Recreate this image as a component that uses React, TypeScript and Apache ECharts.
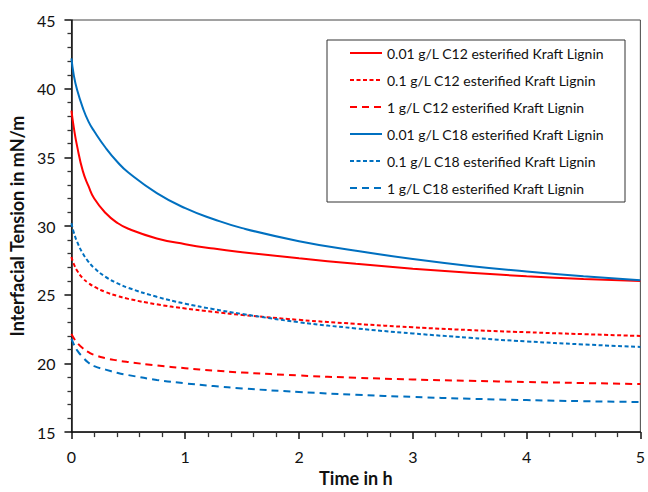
import React, { useEffect, useRef } from "react";
import * as echarts from "echarts";

const times = [0, 0.02, 0.05, 0.1, 0.15, 0.2, 0.3, 0.4, 0.5, 0.75, 1, 1.25, 1.5, 2, 2.5, 3, 3.5, 4, 4.5, 5];

const c12_001 = [38.4, 37.2, 35.8, 34.0, 32.9, 32.0, 30.95, 30.25, 29.8, 29.1, 28.68, 28.36, 28.1, 27.65, 27.25, 26.9, 26.6, 26.35, 26.15, 26.0];
const c12_01 = [27.75, 27.25, 26.75, 26.2, 25.85, 25.58, 25.2, 24.92, 24.7, 24.3, 24.0, 23.75, 23.53, 23.17, 22.88, 22.63, 22.43, 22.27, 22.13, 22.0];
const c12_1 = [22.15, 21.85, 21.5, 21.1, 20.82, 20.62, 20.38, 20.22, 20.1, 19.85, 19.65, 19.48, 19.34, 19.12, 18.96, 18.83, 18.73, 18.65, 18.57, 18.5];
const c18_001 = [42.2, 41.0, 39.9, 38.6, 37.6, 36.9, 35.7, 34.7, 33.9, 32.4, 31.3, 30.5, 29.85, 28.9, 28.2, 27.6, 27.1, 26.7, 26.35, 26.05];
const c18_01 = [30.2, 29.55, 28.85, 28.0, 27.4, 26.95, 26.3, 25.85, 25.5, 24.85, 24.35, 23.95, 23.6, 23.0, 22.55, 22.18, 21.87, 21.6, 21.38, 21.2];
const c18_1 = [21.8, 21.4, 20.95, 20.45, 20.05, 19.8, 19.55, 19.32, 19.15, 18.8, 18.55, 18.35, 18.18, 17.92, 17.72, 17.56, 17.43, 17.33, 17.25, 17.19];

const seriesNames = [
  "0.01 g/L C12 esterified Kraft Lignin",
  "0.1 g/L C12 esterified Kraft Lignin",
  "1 g/L C12 esterified Kraft Lignin",
  "0.01 g/L C18 esterified Kraft Lignin",
  "0.1 g/L C18 esterified Kraft Lignin",
  "1 g/L C18 esterified Kraft Lignin",
];
const seriesValues = [c12_001, c12_01, c12_1, c18_001, c18_01, c18_1];

const RED = "#FF0000";
const BLUE = "#0070C0";
const FONT = "Lato";

export default function App() {
  const ref = useRef<HTMLDivElement>(null);
  useEffect(() => {
    if (!ref.current) return;
    const chart = echarts.init(ref.current, undefined, { renderer: "svg" });
    const styles = [
      { color: RED, type: "solid" as any },
      { color: RED, type: [4, 2.5] as any },
      { color: RED, type: [7, 5] as any },
      { color: BLUE, type: "solid" as any },
      { color: BLUE, type: [4, 2.5] as any },
      { color: BLUE, type: [7, 5] as any },
    ];
    chart.setOption({
      animation: false,
      backgroundColor: "#fff",
      textStyle: { fontFamily: FONT },
      grid: {
        left: 70,
        right: 5,
        top: 20,
        bottom: 50,
        show: true,
        borderColor: "#444",
        borderWidth: 1,
      },
      legend: {
        orient: "vertical",
        left: 327,
        top: 40,
        padding: [6, 21, 7, 22],
        itemWidth: 32,
        itemHeight: 14,
        itemGap: 13,
        backgroundColor: "#fff",
        borderColor: "#333",
        borderWidth: 1,
        borderRadius: 0,
        itemStyle: { opacity: 0 },
        textStyle: { fontFamily: FONT, fontSize: 14, color: "#111" },
        data: seriesNames,
      },
      xAxis: {
        type: "value",
        min: 0,
        max: 5,
        interval: 1,
        name: "Time in h",
        nameLocation: "middle",
        nameGap: 33,
        nameTextStyle: { fontFamily: FONT, fontSize: 18, fontWeight: "bold", color: "#111" },
        axisLine: { show: true, onZero: false, lineStyle: { color: "#111", width: 1.5 } },
        axisTick: { show: true, inside: false, length: 7, lineStyle: { color: "#111", width: 1.5 } },
        minorTick: { show: true, splitNumber: 5, length: 5, lineStyle: { color: "#333", width: 1.3 } },
        axisLabel: { fontFamily: FONT, fontSize: 16, color: "#111", margin: 16 },
        splitLine: { show: false },
      },
      yAxis: {
        type: "value",
        min: 15,
        max: 45,
        interval: 5,
        name: "Interfacial Tension in mN/m",
        nameLocation: "middle",
        nameGap: 40,
        nameRotate: 90,
        nameTextStyle: { fontFamily: FONT, fontSize: 18, fontWeight: "bold", color: "#111" },
        axisLine: { show: true, onZero: false, lineStyle: { color: "#111", width: 1.5 } },
        axisTick: { show: true, inside: false, length: 7, lineStyle: { color: "#111", width: 1.5 } },
        minorTick: { show: true, splitNumber: 5, length: 4, lineStyle: { color: "#333", width: 1.3 } },
        axisLabel: { fontFamily: FONT, fontSize: 16, color: "#111", margin: 16 },
        splitLine: { show: false },
      },
      series: seriesNames.map((name, i) => ({
        name,
        type: "line",
        smooth: 0.5,
        symbol: "none",
        data: times.map((t, j) => [t, seriesValues[i][j]]),
        lineStyle: { color: styles[i].color, type: styles[i].type, width: 2 },
        itemStyle: { color: styles[i].color },
      })),
    });
    return () => chart.dispose();
  }, []);
  return (
    <div
      ref={ref}
      style={{ position: "fixed", left: 0, top: 0, width: 648, height: 492 }}
    />
  );
}
